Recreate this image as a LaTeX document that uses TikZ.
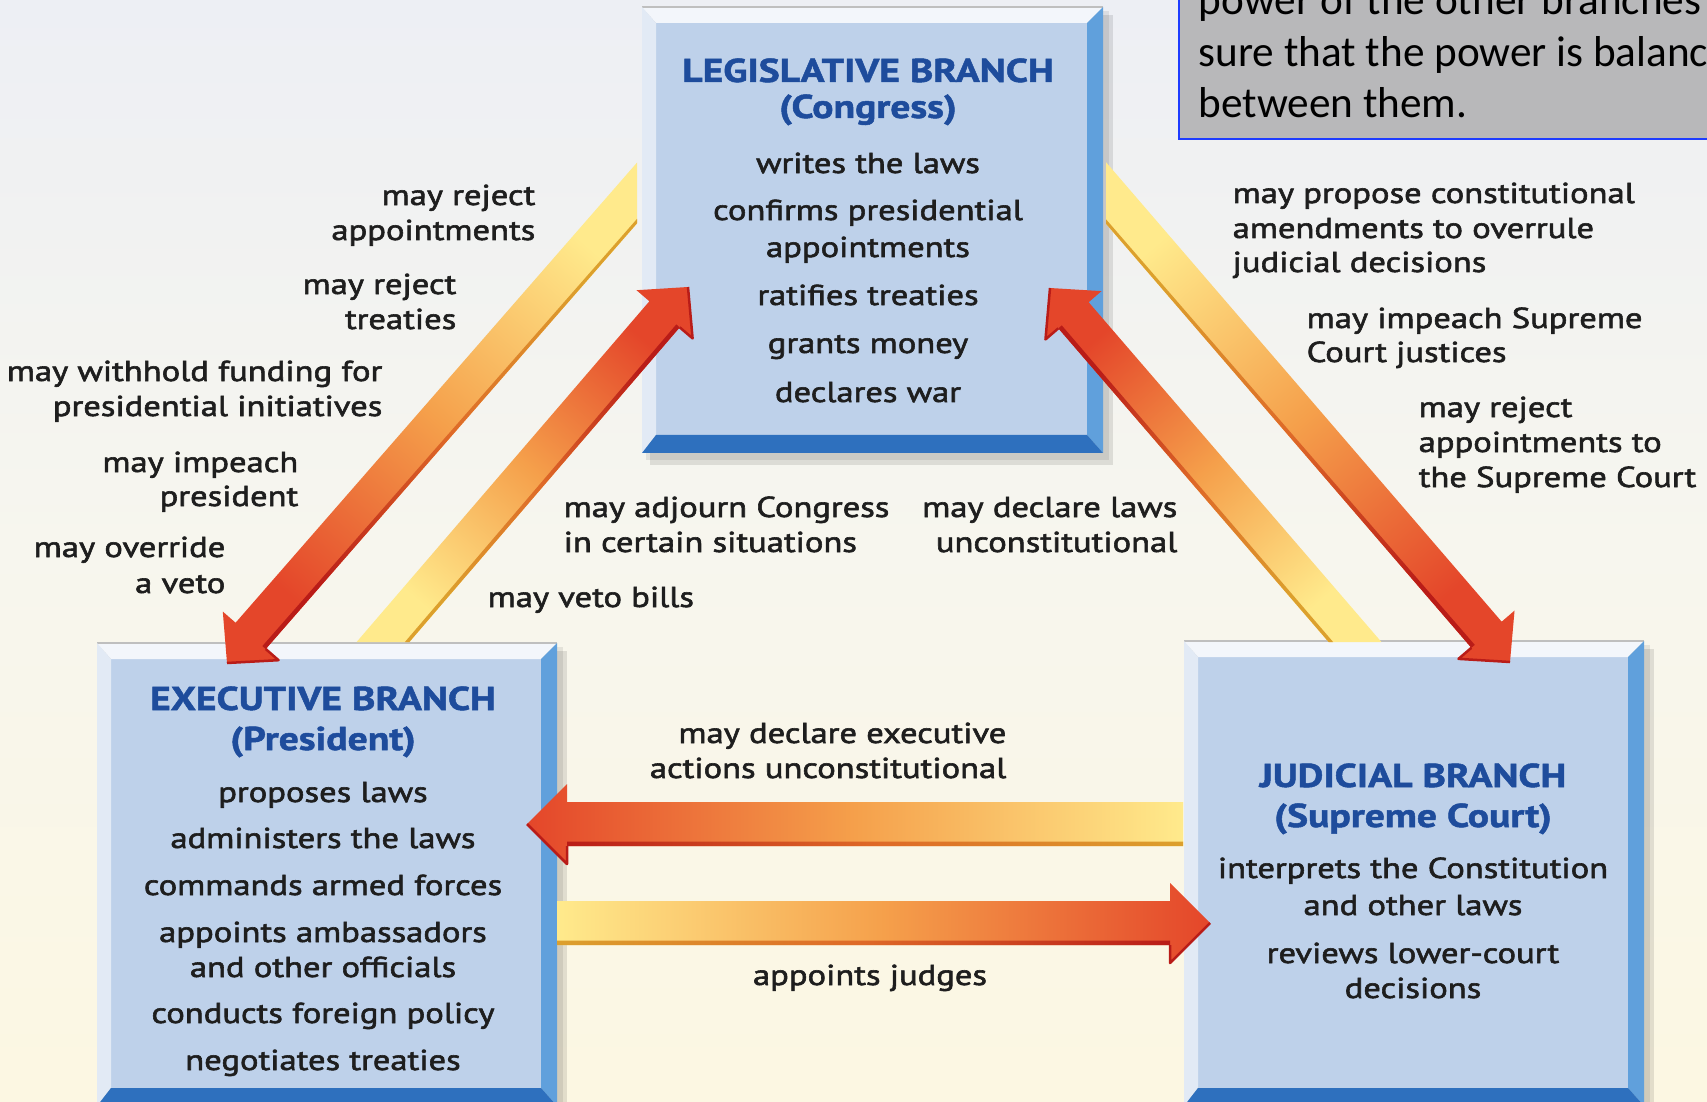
\documentclass[tikz,border=0pt]{standalone}
\usepackage{fontspec}
\setmainfont{PT Sans}[FakeStretch=1.2]
\newfontfamily\lblfont{PT Sans}[FakeStretch=1.2, FakeBold=2.0]
\newfontfamily\ttlfont{PT Sans Bold}[FakeStretch=1.2, FakeBold=1.5]
\newfontfamily\calfont{Carlito}
\usetikzlibrary{calc}

\definecolor{bgtop}{RGB}{237,239,244}
\definecolor{bgmid}{RGB}{247,246,238}
\definecolor{bgbot}{RGB}{252,247,226}
\definecolor{facec}{RGB}{190,209,234}
\definecolor{bvT}{RGB}{243,246,251}
\definecolor{bvL}{RGB}{226,234,245}
\definecolor{bvR}{RGB}{96,160,220}
\definecolor{bvB}{RGB}{46,112,190}
\definecolor{ttlc}{RGB}{30,76,156}
\definecolor{txtc}{RGB}{30,30,30}
\definecolor{arY}{RGB}{255,234,140}
\definecolor{arO}{RGB}{245,160,75}
\definecolor{arR}{RGB}{228,70,42}
\definecolor{edY}{RGB}{220,160,45}
\definecolor{edO}{RGB}{222,105,40}
\definecolor{edR}{RGB}{185,28,24}
\definecolor{noteg}{RGB}{184,184,186}
\definecolor{noteb}{RGB}{30,60,255}

% block arrow: #1 tail corner (+90 side), #2 tail corner (-90 side), #3 tail centre, #4 tip,
% #5 shading angle, #6 corner on shadow side, #7 other corner, #8 base rotation for shadow side
\newcommand\barrow[8]{%
  \coordinate (bb) at ($(#4)!\hl!(#3)$);
  \shade[arrowfill, shading angle=#5] (#1) -- ($(bb)!\shw!-90:(#3)$) -- ($(bb)!\hw!-90:(#3)$) -- (#4)
     -- ($(bb)!\hw!90:(#3)$) -- ($(bb)!\shw!90:(#3)$) -- (#2) -- cycle;
  \shade[edgefill, shading angle=#5] (#6) -- ($(bb)!\shw!#8:(#3)$) -- ($(bb)!\shwi!#8:(#3)$)
     -- ($(#6)!0.45mm!(#7)$) -- cycle;
  \draw[edR, line width=0.25mm, line join=round] ($(bb)!\shw!#8:(#3)$) -- ($(bb)!\hw!#8:(#3)$) -- (#4);
}
% bevelled frame round a face node
\newcommand\bevel[1]{%
  \fill[black, opacity=.10] ($(#1.north west)+(-6,-8)$) rectangle ($(#1.south east)+(26,30)$);
  \fill[black, opacity=.08] ($(#1.north west)+(-10,-12)$) rectangle ($(#1.south east)+(22,25)$);
  \fill[facec] (#1.north west) rectangle (#1.south east);
  \fill[bvT] ($(#1.north west)+(-14,-16)$) -- ($(#1.north east)+(16,-16)$) -- (#1.north east) -- (#1.north west) -- cycle;
  \draw[black!25, line width=0.15mm] ($(#1.north west)+(-14,-16)$) -- ($(#1.north east)+(16,-16)$);
  \fill[bvL] ($(#1.north west)+(-14,-16)$) -- (#1.north west) -- (#1.south west) -- ($(#1.south west)+(-14,18)$) -- cycle;
  \fill[bvR] ($(#1.north east)+(16,-16)$) -- ($(#1.south east)+(16,18)$) -- (#1.south east) -- (#1.north east) -- cycle;
  \fill[bvB] ($(#1.south west)+(-14,18)$) -- ($(#1.south east)+(16,18)$) -- (#1.south east) -- (#1.south west) -- cycle;
}

\begin{document}
\begin{tikzpicture}[x=0.1mm, y=-0.1mm,
  face/.style={rectangle, fill=none, draw=none, inner sep=0pt, outer sep=0pt},
  lbl/.style={font=\lblfont\fontsize{8.2}{10}\selectfont, text=txtc, inner sep=0pt},
  ttl/.style={font=\ttlfont\fontsize{9.4}{11}\selectfont, text=ttlc, inner sep=0pt},
  notetxt/.style={font=\calfont\fontsize{12.3}{14.6}\selectfont, text=black, inner sep=0pt},
  arrowfill/.style={bottom color=arY, top color=arR, middle color=arO},
  edgefill/.style={bottom color=edY, top color=edR, middle color=edO}]

\useasboundingbox (0,0) rectangle (1707,1102);
\clip (0,0) rectangle (1707,1102);
\shade[top color=bgtop, bottom color=bgbot, middle color=bgmid] (0,0) rectangle (1707,1102);

% ---------- boxes ----------
\node[face, minimum width=43.1mm, minimum height=41.2mm] (leg) at (871.5,229) {};
\node[face, minimum width=43.0mm, minimum height=42.9mm] (exe) at (326,873.5) {};
\node[face, minimum width=43.0mm, minimum height=43.1mm] (jud) at (1413,872.5) {};
\bevel{leg}
\bevel{exe}
\bevel{jud}

% ---------- callout ----------
\node[rectangle, fill=noteg, draw=noteb, line width=0.2mm, minimum width=60mm, minimum height=17mm,
      anchor=south west, inner sep=0pt] (note) at (1178,140) {};
\node[notetxt, anchor=base west] (n1) at (1198,15) {power of the other branches};
\node[notetxt, anchor=base west] (n2) at (1198,67) {sure that the power is balanced};
\node[notetxt, anchor=base west] (n3) at (1198,118) {between them.};

% ---------- diagonal arrows ----------
\def\shw{2mm}\def\shwi{1.55mm}\def\hw{3.7mm}\def\hl{3.6mm}
% Legislative -> Executive (outer left)
\coordinate (a1p) at (637,223.4); \coordinate (a1m) at (637,162.6);
\coordinate (a1s) at (637,193);   \coordinate (a1t) at (227,663);
\barrow{a1p}{a1m}{a1s}{a1t}{138.9}{a1p}{a1m}{-90}
% Executive -> Legislative (inner left)
\coordinate (a2p) at (356.6,642); \coordinate (a2m) at (409.4,642);
\coordinate (a2s) at (383,642);   \coordinate (a2t) at (688,287);
\barrow{a2p}{a2m}{a2s}{a2t}{-40.7}{a2m}{a2p}{90}
% Legislative -> Judicial (outer right)
\coordinate (a3p) at (1106,162.2); \coordinate (a3m) at (1106,223.8);
\coordinate (a3s) at (1106,193);   \coordinate (a3t) at (1510,662);
\barrow{a3p}{a3m}{a3s}{a3t}{-139.6}{a3m}{a3p}{90}
% Judicial -> Legislative (inner right)
\coordinate (a4p) at (1328.6,642); \coordinate (a4m) at (1381.4,642);
\coordinate (a4s) at (1355,642);   \coordinate (a4t) at (1050,288);
\barrow{a4p}{a4m}{a4s}{a4t}{40.7}{a4p}{a4m}{-90}

% ---------- horizontal arrows ----------
\def\shw{2.2mm}\def\shwi{1.75mm}\def\hw{4mm}\def\hl{4mm}
% Judicial -> Executive
\coordinate (a5p) at (1183,846); \coordinate (a5m) at (1183,802);
\coordinate (a5s) at (1183,824); \coordinate (a5t) at (527,824);
\barrow{a5p}{a5m}{a5s}{a5t}{90}{a5p}{a5m}{-90}
% Executive -> Judicial
\coordinate (a6p) at (557,901); \coordinate (a6m) at (557,945);
\coordinate (a6s) at (557,923); \coordinate (a6t) at (1210,923);
\barrow{a6p}{a6m}{a6s}{a6t}{-90}{a6m}{a6p}{90}

% ---------- box texts ----------
\node[ttl, anchor=base] (legA) at (868,82) {LEGISLATIVE BRANCH};
\node[ttl, anchor=base] (legB) at (868,118) {(Congress)};
\node[lbl, anchor=base] (leg1) at (868,173) {writes the laws};
\node[lbl, anchor=base] (leg2) at (868,220) {confirms presidential};
\node[lbl, anchor=base] (leg3) at (868,257) {appointments};
\node[lbl, anchor=base] (leg4) at (868,305) {ratifies treaties};
\node[lbl, anchor=base] (leg5) at (868,353) {grants money};
\node[lbl, anchor=base] (leg6) at (868,402) {declares war};

\node[ttl, anchor=base] (exeA) at (323,710) {EXECUTIVE BRANCH};
\node[ttl, anchor=base] (exeB) at (323,750) {(President)};
\node[lbl, anchor=base] (exe1) at (323,802) {proposes laws};
\node[lbl, anchor=base] (exe2) at (323,848) {administers the laws};
\node[lbl, anchor=base] (exe3) at (323,895) {commands armed forces};
\node[lbl, anchor=base] (exe4) at (323,942) {appoints ambassadors};
\node[lbl, anchor=base] (exe5) at (323,977) {and other officials};
\node[lbl, anchor=base] (exe6) at (323,1023) {conducts foreign policy};
\node[lbl, anchor=base] (exe7) at (323,1070) {negotiates treaties};

\node[ttl, anchor=base] (judA) at (1413,787) {JUDICIAL BRANCH};
\node[ttl, anchor=base] (judB) at (1413,827) {(Supreme Court)};
\node[lbl, anchor=base] (jud1) at (1413,878) {interprets the Constitution};
\node[lbl, anchor=base] (jud2) at (1413,915) {and other laws};
\node[lbl, anchor=base] (jud3) at (1413,963) {reviews lower-court};
\node[lbl, anchor=base] (jud4) at (1413,998) {decisions};

% ---------- arrow labels ----------
\node[lbl, anchor=base east] (l1a) at (536,205) {may reject};
\node[lbl, anchor=base east] (l1b) at (536,240) {appointments};
\node[lbl, anchor=base east] (l2a) at (457,294) {may reject};
\node[lbl, anchor=base east] (l2b) at (457,329) {treaties};
\node[lbl, anchor=base east] (l3a) at (383,381) {may withhold funding for};
\node[lbl, anchor=base east] (l3b) at (383,416) {presidential initiatives};
\node[lbl, anchor=base east] (l4a) at (299,472) {may impeach};
\node[lbl, anchor=base east] (l4b) at (299,506) {president};
\node[lbl, anchor=base east] (l5a) at (226,557) {may override};
\node[lbl, anchor=base east] (l5b) at (226,593) {a veto};

\node[lbl, anchor=base west] (m1a) at (563,517) {may adjourn Congress};
\node[lbl, anchor=base west] (m1b) at (563,552) {in certain situations};
\node[lbl, anchor=base west] (m2)  at (487,607) {may veto bills};
\node[lbl, anchor=base east] (m3a) at (1178,517) {may declare laws};
\node[lbl, anchor=base east] (m3b) at (1178,552) {unconstitutional};

\node[lbl, anchor=base west] (r1a) at (1232,203) {may propose constitutional};
\node[lbl, anchor=base west] (r1b) at (1232,238) {amendments to overrule};
\node[lbl, anchor=base west] (r1c) at (1232,272) {judicial decisions};
\node[lbl, anchor=base west] (r2a) at (1306,328) {may impeach Supreme};
\node[lbl, anchor=base west] (r2b) at (1306,362) {Court justices};
\node[lbl, anchor=base west] (r3a) at (1418,417) {may reject};
\node[lbl, anchor=base west] (r3b) at (1418,452) {appointments to};
\node[lbl, anchor=base west] (r3c) at (1418,487) {the Supreme Court};

\node[lbl, anchor=base east] (h1a) at (1007,743) {may declare executive};
\node[lbl, anchor=base east] (h1b) at (1007,778) {actions unconstitutional};
\node[lbl, anchor=base] (h2) at (870,985) {appoints judges};
\end{tikzpicture}
\end{document}
